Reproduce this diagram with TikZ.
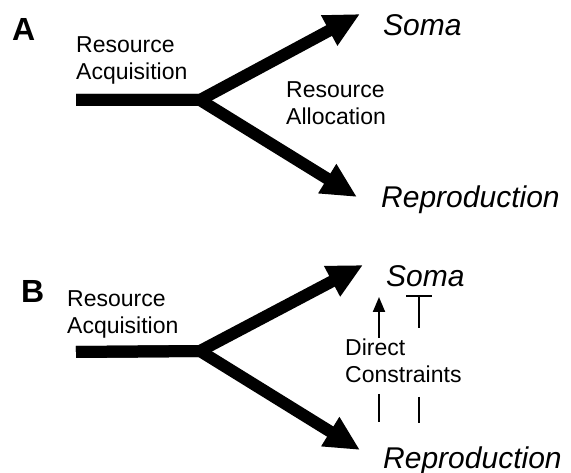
\documentclass[tikz,border=0pt]{standalone}
\usepackage{fontspec}
\setmainfont{Liberation Sans}
\usetikzlibrary{arrows.meta}

\begin{document}
\begin{tikzpicture}[x=1pt,y=-1pt,
    flow/.style={line width=12pt,line join=round,-{Triangle[length=35pt,width=32pt]}},
    small/.style={line width=2pt},
    txt/.style={inner sep=0pt,anchor=base west,align=left,font=\fontsize{23}{27}\selectfont},
    goal/.style={inner sep=0pt,anchor=base west,font=\fontsize{30}{34}\selectfont\itshape},
    panel/.style={inner sep=0pt,anchor=base west,font=\fontsize{32}{36}\selectfont\bfseries}]
            \useasboundingbox (0,0) rectangle (571,473);

            % A
            \node[panel] (A) at (12,41) {A};
            \node[txt] (acqA) at (76,80) {Resource\\Acquisition};
            \node[txt] (allA) at (286,125) {Resource\\Allocation};
            \node[goal] (somaA) at (383,36) {Soma};
            \node[goal] (repA) at (381,208) {Reproduction};
            \coordinate (inA) at (76,100);
            \coordinate (jA) at (200,100);
            \coordinate (upA) at (360,14);
            \coordinate (downA) at (357,197);

            \draw [flow] (inA) -- (jA) -- (upA);
            \draw [flow] (inA) -- (jA) -- (downA);

            % B
            \node[panel] (B) at (21,303) {B};
            \node[txt] (acqB) at (67,334) {Resource\\Acquisition};
            \node[txt] (con) at (345,383) {Direct\\Constraints};
            \node[goal] (somaB) at (386,287) {Soma};
            \node[goal] (repB) at (383,468) {Reproduction};
            \coordinate (inB) at (76,352);
            \coordinate (jB) at (200,351);
            \coordinate (upB) at (363,265);
            \coordinate (downB) at (360,450);

            \draw [flow] (inB) -- (jB) -- (upB);
            \draw [flow] (inB) -- (jB) -- (downB);

            \coordinate (p1) at (379,338);
            \coordinate (p2) at (379,297);
            \coordinate (q1) at (419,328);
            \coordinate (q2) at (419,295);
            \coordinate (r1) at (379,394);
            \coordinate (r2) at (379,422);
            \coordinate (s1) at (419,397);
            \coordinate (s2) at (419,423);

            \draw [small,-{Triangle[length=15pt,width=12pt]}] (p1) -- (p2);
            \draw [small,-{Bar[width=26pt]}] (q1) -- (q2);
            \draw [small] (r1) -- (r2);
            \draw [small] (s1) -- (s2);
        \end{tikzpicture}
\end{document}
